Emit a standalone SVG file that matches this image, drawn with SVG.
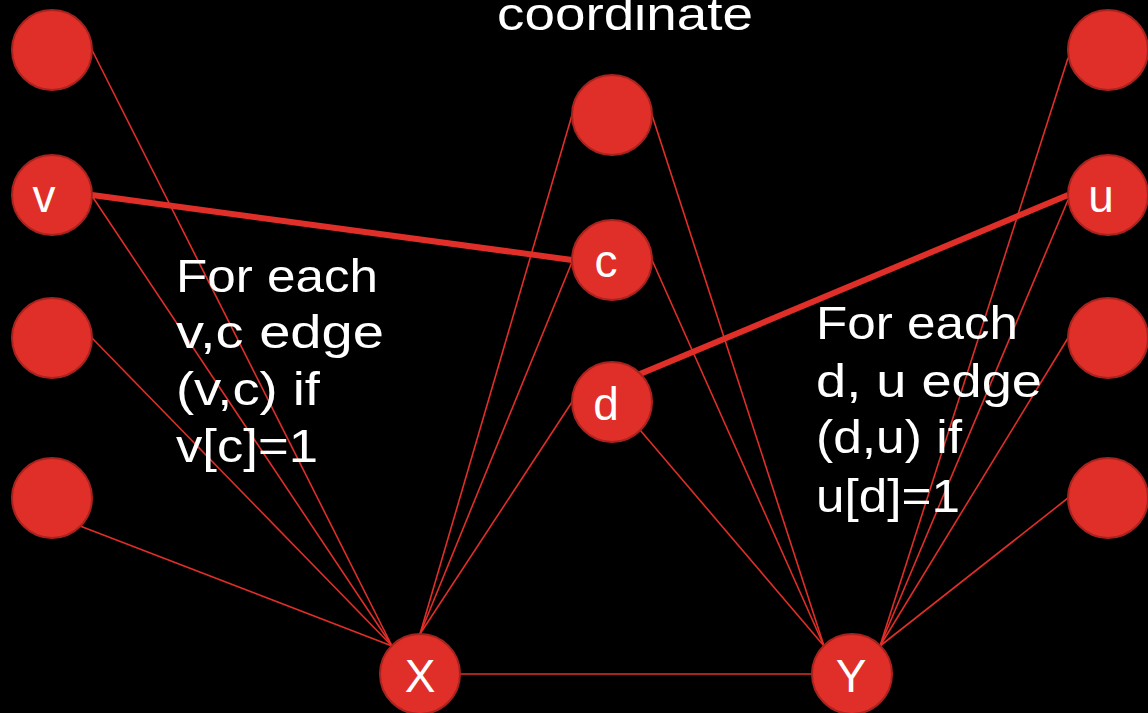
<svg xmlns="http://www.w3.org/2000/svg" width="1148" height="713" viewBox="0 0 1148 713">
<style>
.bg{fill:#000}
.n{fill:#E02E29;stroke:#A9231E;stroke-width:2}
.e{stroke:#E02E29;stroke-width:1.6;fill:none}
.t{stroke:#E02E29;stroke-width:6;fill:none}
.lbl{fill:#fff;font-family:"Liberation Sans",Arial,sans-serif;font-size:46px;text-anchor:middle}
.txt{fill:#fff;font-family:"Liberation Sans",Arial,sans-serif;font-size:46px}
</style>
<rect class="bg" x="0" y="0" width="1148" height="713"/>
<text class="txt" x="497" y="30" textLength="256" lengthAdjust="spacingAndGlyphs">coordinate</text>
<g id="connectors">
<line class="e" x1="92" y1="50" x2="392" y2="646"/>
<line class="e" x1="92" y1="196" x2="392" y2="646"/>
<line class="e" x1="92" y1="338" x2="392" y2="646"/>
<line class="e" x1="80" y1="526" x2="392" y2="646"/>
<line class="e" x1="420" y1="634" x2="572" y2="115"/>
<line class="e" x1="420" y1="634" x2="572" y2="262"/>
<line class="e" x1="420" y1="634" x2="572" y2="402"/>
<line class="e" x1="652" y1="115" x2="824" y2="646"/>
<line class="e" x1="652" y1="260" x2="824" y2="646"/>
<line class="e" x1="640" y1="430" x2="824" y2="646"/>
<line class="e" x1="1068" y1="58" x2="880" y2="646"/>
<line class="e" x1="1068" y1="200" x2="880" y2="646"/>
<line class="e" x1="1068" y1="338" x2="880" y2="646"/>
<line class="e" x1="1068" y1="498" x2="880" y2="646"/>
<line class="e" x1="460" y1="674" x2="812" y2="674"/>
<line class="t" x1="92" y1="195" x2="572" y2="260"/>
<line class="t" x1="640" y1="374" x2="1068" y2="195"/>
</g>
<g id="L1"><circle class="n" cx="52" cy="50" r="40"/></g>
<g id="v"><circle class="n" cx="52" cy="195" r="40"/><text class="lbl" x="44" y="212">v</text></g>
<g id="L3"><circle class="n" cx="52" cy="338" r="40"/></g>
<g id="L4"><circle class="n" cx="52" cy="498" r="40"/></g>
<g id="M1"><circle class="n" cx="612" cy="115" r="40"/></g>
<g id="c"><circle class="n" cx="612" cy="260" r="40"/><text class="lbl" x="606" y="277">c</text></g>
<g id="d"><circle class="n" cx="612" cy="402" r="40"/><text class="lbl" x="606" y="420">d</text></g>
<g id="R1"><circle class="n" cx="1108" cy="50" r="40"/></g>
<g id="u"><circle class="n" cx="1108" cy="195" r="40"/><text class="lbl" x="1101" y="212">u</text></g>
<g id="R3"><circle class="n" cx="1108" cy="338" r="40"/></g>
<g id="R4"><circle class="n" cx="1108" cy="498" r="40"/></g>
<g id="X"><circle class="n" cx="420" cy="674" r="40"/><text class="lbl" x="420" y="692">X</text></g>
<g id="Y"><circle class="n" cx="852" cy="674" r="40"/><text class="lbl" x="851" y="692">Y</text></g>
<g id="left-text">
<text class="txt" x="176" y="292" textLength="202" lengthAdjust="spacingAndGlyphs">For each</text>
<text class="txt" x="176" y="348" textLength="208" lengthAdjust="spacingAndGlyphs">v,c edge</text>
<text class="txt" x="176" y="405" textLength="144" lengthAdjust="spacingAndGlyphs">(v,c) if</text>
<text class="txt" x="176" y="462" textLength="142" lengthAdjust="spacingAndGlyphs">v[c]=1</text>
</g>
<g id="right-text">
<text class="txt" x="816" y="339" textLength="202" lengthAdjust="spacingAndGlyphs">For each</text>
<text class="txt" x="816" y="397" textLength="226" lengthAdjust="spacingAndGlyphs">d, u edge</text>
<text class="txt" x="816" y="453" textLength="146" lengthAdjust="spacingAndGlyphs">(d,u) if</text>
<text class="txt" x="816" y="512" textLength="144" lengthAdjust="spacingAndGlyphs">u[d]=1</text>
</g>
</svg>
